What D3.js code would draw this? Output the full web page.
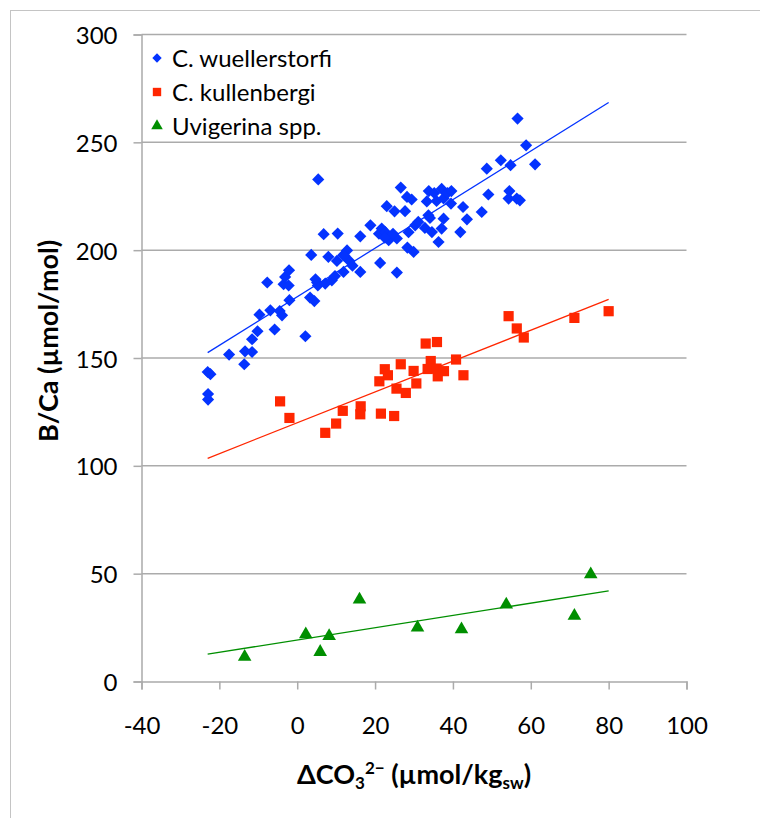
<!DOCTYPE html>
<html>
<head>
<meta charset="utf-8">
<script src="https://cdn.jsdelivr.net/npm/d3@7"></script>
<style>
  html, body { margin: 0; padding: 0; background: #fff; }
  svg { display: block; }
  text { font-family: Lato, "Open Sans", sans-serif; fill: #000; }
</style>
</head>
<body>
<svg id="chart" width="760" height="818"></svg>
<script>
// ---- data ----
const seriesNames = ["C. wuellerstorfi", "C. kullenbergi", "Uvigerina spp."];
const seriesColors = ["#0433FF", "#FF2600", "#008F00"];

const wuellX = [-23.0,-22.3,-22.9,-22.9,-17.5,-13.6,-13.4,-11.6,-11.6,-10.2,-9.7,-7.7,-6.9,-5.8,-4.5,-3.9,-3.5,-3.1,-2.1,-2.2,-2.0,
  2.1,3.3,3.6,4.4,5.4,5.1,5.3,6.8,7.2,8.0,8.9,9.7,10.4,10.2,11.8,11.9,12.8,13.4,14.2,16.2,16.2,18.8,21.0,21.3,21.7,23.0,22.6,23.5,25.0,25.6,25.6,
  26.6,27.7,28.2,28.6,28.3,29.4,29.9,30.3,31.1,32.8,33.3,33.7,34.1,33.8,34.6,35.2,35.8,36.3,37.1,37.1,37.6,37.6,38.6,39.6,39.5,
  41.9,42.6,43.6,47.4,48.7,49.1,52.3,54.5,54.3,54.8,56.6,56.4,57.2,58.8,61.1,12.1,4.7,22.5,24.6];
const wuellY = [143.5,142.5,133.3,130.7,151.6,147.1,153.1,158.7,152.8,162.4,170.1,185.0,172.1,163.2,171.8,169.8,184.2,187.6,190.7,183.6,176.8,
  160.1,178.0,197.8,176.4,232.8,185.0,183.6,207.4,184.5,196.9,186.0,188.0,207.7,195.0,197.7,189.9,199.9,195.0,192.8,206.4,189.9,211.5,207.6,194.1,210.0,220.4,208.4,204.6,218.0,205.4,189.6,
  229.0,218.1,224.7,208.3,201.2,223.5,199.2,211.5,213.1,210.3,222.6,216.2,214.9,227.4,208.4,226.5,222.8,203.8,228.4,210.0,224.0,214.6,226.5,227.4,221.6,
  208.4,220.0,214.3,217.7,237.8,225.8,241.7,227.4,223.9,239.4,261.0,223.9,223.1,248.6,239.8,197.5,186.5,205.8,207.6];

const kullX = [-4.4,-2.0,7.2,10.0,11.7,16.3,16.2,21.5,24.9,21.1,22.5,23.3,26.6,25.5,27.9,29.9,30.6,33.0,35.9,34.3,33.5,35.8,37.7,36.1,40.8,42.7,54.3,56.4,58.2,71.2,80.0];
const kullY = [129.9,122.2,115.3,119.6,125.5,127.6,123.9,124.2,123.1,139.2,144.8,142.0,147.1,135.8,133.8,144.0,138.2,156.7,157.4,148.6,144.9,145.1,143.9,141.5,149.3,142.0,169.4,163.7,159.5,168.6,171.7];

const uvigX = [-13.5,2.2,5.9,8.2,16.0,30.9,42.2,53.7,71.2,75.4];
const uvigY = [11.4,21.9,13.7,21.1,38.0,25.0,24.2,35.7,30.4,49.7];

// trendline endpoints
const trendX = [-23, 80];
const trendWuell = [152.5, 268.5];
const trendKull = [103.5, 177.2];
const trendUvig = [12.7, 42.0];

const xTicks = [-40, -20, 0, 20, 40, 60, 80, 100];
const yTicks = [0, 50, 100, 150, 200, 250, 300];

// ---- chart ----
const svg = d3.select("#chart");
const gridColor = "#ababab";
const fmt = d => String(d); // plain hyphen-minus as in the original

svg.append("rect").attr("x", 10.5).attr("y", 10.5).attr("width", 900).attr("height", 900)
  .attr("fill", "none").attr("stroke", "#c4c4c4").attr("stroke-width", 1);

const x = d3.scaleLinear().domain([-40, 100]).range([141.5, 686.5]);
const y = d3.scaleLinear().domain([0, 300]).range([681.5, 34.5]);

// gridlines
svg.append("g").selectAll("line").data(yTicks.filter(d => d > 0)).join("line")
  .attr("x1", x(-40)).attr("x2", x(100))
  .attr("y1", d => y(d)).attr("y2", d => y(d))
  .attr("stroke", gridColor).attr("stroke-width", 1.5);

// y axis
const yAxis = svg.append("g").attr("transform", `translate(${x(-40)},0)`)
  .call(d3.axisLeft(y).tickValues(yTicks).tickSize(8).tickPadding(16).tickFormat(fmt));
yAxis.select(".domain").attr("stroke", gridColor).attr("stroke-width", 1.5);
yAxis.selectAll(".tick line").attr("stroke", gridColor).attr("stroke-width", 1.5);
yAxis.selectAll(".tick text").attr("font-size", 24).attr("font-family", "Lato").attr("fill", "#000").attr("dy", "0.38em");

// x axis
const xAxis = svg.append("g").attr("transform", `translate(0,${y(0)})`)
  .call(d3.axisBottom(x).tickValues(xTicks).tickSize(8).tickPadding(27).tickFormat(fmt));
xAxis.select(".domain").attr("stroke", gridColor).attr("stroke-width", 1.5);
xAxis.selectAll(".tick line").attr("stroke", gridColor).attr("stroke-width", 1.5);
xAxis.selectAll(".tick text").attr("font-size", 24).attr("font-family", "Lato").attr("fill", "#000");

// trendlines
const line = d3.line().x(d => x(d[0])).y(d => y(d[1]));
[[trendWuell, 0], [trendKull, 1], [trendUvig, 2]].forEach(([vals, i]) => {
  svg.append("path").datum(trendX.map((v, k) => [v, vals[k]]))
    .attr("d", line).attr("fill", "none").attr("stroke", seriesColors[i]).attr("stroke-width", 1.3);
});

// markers
const diamond = d3.symbol().type(d3.symbolSquare).size(74);
const square = d3.symbol().type(d3.symbolSquare).size(104);
const triangle = d3.symbol().type(d3.symbolTriangle).size(80);

svg.append("g").selectAll("path").data(wuellX.map((v, i) => [v, wuellY[i]])).join("path")
  .attr("d", diamond).attr("transform", d => `translate(${x(d[0])},${y(d[1])}) rotate(45)`)
  .attr("fill", seriesColors[0]);
svg.append("g").selectAll("path").data(kullX.map((v, i) => [v, kullY[i]])).join("path")
  .attr("d", square).attr("transform", d => `translate(${x(d[0])},${y(d[1])})`)
  .attr("fill", seriesColors[1]);
svg.append("g").selectAll("path").data(uvigX.map((v, i) => [v, uvigY[i]])).join("path")
  .attr("d", triangle).attr("transform", d => `translate(${x(d[0])},${y(d[1])})`)
  .attr("fill", seriesColors[2]);

// legend
const legendSyms = [d3.symbol().type(d3.symbolSquare).size(44), d3.symbol().type(d3.symbolSquare).size(70), d3.symbol().type(d3.symbolTriangle).size(58)];
const legendRot = [45, 0, 0];
const lg = svg.append("g");
seriesNames.forEach((name, i) => {
  const cy = 58 + i * 34;
  lg.append("path").attr("d", legendSyms[i]).attr("transform", `translate(157,${cy}) rotate(${legendRot[i]})`).attr("fill", seriesColors[i]);
  lg.append("text").attr("x", 172).attr("y", cy + 9).attr("font-size", 24).text(name);
});

// axis titles
svg.append("text").attr("transform", "translate(58,341) rotate(-90)")
  .attr("text-anchor", "middle").attr("font-size", 27).attr("font-weight", "bold")
  .text("B/Ca (µmol/mol)");

const xt = svg.append("text").attr("x", 414).attr("y", 784).attr("text-anchor", "middle")
  .attr("font-size", 27).attr("font-weight", "bold");
xt.append("tspan").text("ΔCO");
xt.append("tspan").attr("font-size", 17).attr("dy", 5).text("3");
xt.append("tspan").attr("font-size", 17).attr("dy", -15).text("2−");
xt.append("tspan").attr("dy", 10).text(" (µmol/kg");
xt.append("tspan").attr("font-size", 17).attr("dy", 5).text("sw");
xt.append("tspan").attr("dy", -5).text(")");
</script>
</body>
</html>
